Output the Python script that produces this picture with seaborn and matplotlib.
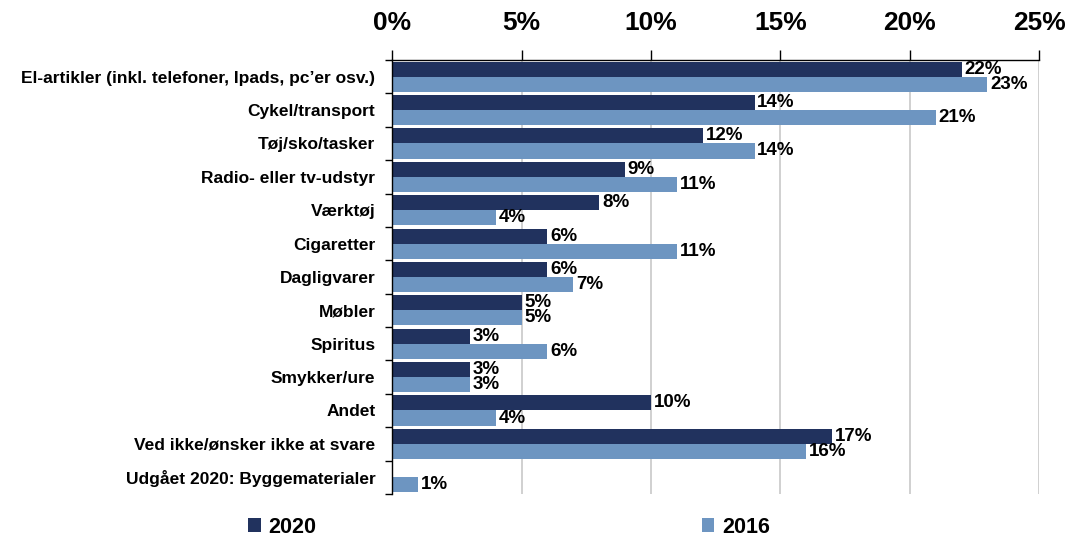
import numpy as np
import pandas as pd
import matplotlib
matplotlib.use("Agg")
import matplotlib.pyplot as plt
import seaborn as sns
from matplotlib.ticker import FixedLocator, PercentFormatter

categories = [
    "El-artikler (inkl. telefoner, Ipads, pc\u2019er osv.)",
    "Cykel/transport",
    "Tøj/sko/tasker",
    "Radio- eller tv-udstyr",
    "Værktøj",
    "Cigaretter",
    "Dagligvarer",
    "Møbler",
    "Spiritus",
    "Smykker/ure",
    "Andet",
    "Ved ikke/ønsker ikke at svare",
    "Udgået 2020: Byggematerialer",
]
values_2020 = [22, 14, 12, 9, 8, 6, 6, 5, 3, 3, 10, 17, np.nan]
values_2016 = [23, 21, 14, 11, 4, 11, 7, 5, 6, 3, 4, 16, 1]
series = ["2020", "2016"]
x_ticks = [0, 5, 10, 15, 20, 25]

df = pd.DataFrame({
    "kategori": categories * 2,
    "aar": [series[0]] * len(categories) + [series[1]] * len(categories),
    "pct": values_2020 + values_2016,
})

sns.set_theme(style="white")
plt.rcParams["font.family"] = ["Liberation Sans", "DejaVu Sans"]
plt.rcParams["font.weight"] = "bold"
plt.rcParams["text.color"] = "black"
plt.rcParams["xtick.labelcolor"] = "black"
plt.rcParams["ytick.labelcolor"] = "black"

colors = {"2020": "#21325e", "2016": "#6d95c1"}

fig = plt.figure(figsize=(10.67, 5.41), dpi=100)
ax = fig.add_axes([0.3675, 0.087, 0.6065, 0.802])

sns.barplot(data=df, y="kategori", x="pct", hue="aar", hue_order=series,
            order=categories, palette=colors, width=0.9, orient="h",
            ax=ax, saturation=1, edgecolor="none", legend=True)

ax.set_xlim(0, 25)
ax.set_ylim(len(categories) - 0.5, -0.5)
ax.xaxis.tick_top()
ax.set_xticks(x_ticks)
ax.xaxis.set_major_formatter(PercentFormatter(decimals=0))
ax.tick_params(axis="x", which="major", labelsize=19, pad=11, length=7,
               width=1, color="black", direction="out", labelcolor="black")
for lbl in ax.get_xticklabels():
    lbl.set_fontweight("bold")
ax.grid(axis="x", color="#c8c8c8", linewidth=1.2)
ax.grid(axis="y", visible=False)
ax.set_axisbelow(True)

ax.yaxis.set_minor_locator(FixedLocator(np.arange(-0.5, len(categories), 1.0)))
ax.tick_params(axis="y", which="major", length=0, labelsize=12.5, pad=12,
               labelcolor="black")
ax.tick_params(axis="y", which="minor", length=5, width=1, color="black", left=True)
for lbl in ax.get_yticklabels():
    lbl.set_fontweight("bold")

ax.set_xlabel("")
ax.set_ylabel("")
for side in ["right", "bottom"]:
    ax.spines[side].set_visible(False)
for side in ["left", "top"]:
    ax.spines[side].set_visible(True)
    ax.spines[side].set_color("black")
    ax.spines[side].set_linewidth(1)

for container in ax.containers:
    labels = ["" if np.isnan(v) else f"{v:.0f}%" for v in container.datavalues]
    ax.bar_label(container, labels=labels, padding=2, fontsize=13.5, fontweight="bold",
                 color="black")

handles, labs = ax.get_legend_handles_labels()
ax.get_legend().remove()
leg = fig.legend(handles, labs, loc="lower left", bbox_to_anchor=(0.214, -0.03),
                 ncol=2, frameon=False, fontsize=15.5, handlelength=0.6,
                 handleheight=0.6, handletextpad=0.35, columnspacing=17.9)
for t in leg.get_texts():
    t.set_fontweight("bold")
    t.set_color("black")

fig.savefig("out.png", dpi=100)
